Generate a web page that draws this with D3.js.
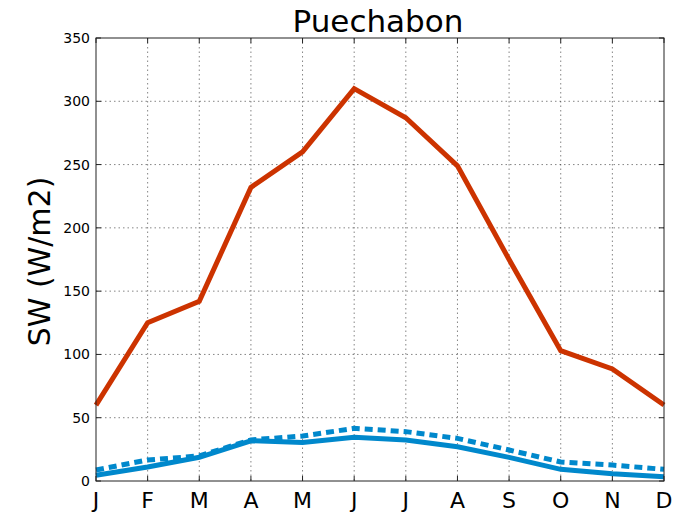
<!DOCTYPE html>
<html>
<head>
  <meta charset="utf-8">
  <script src="https://d3js.org/d3.v7.min.js"></script>
  <style>
    body { margin: 0; background: #fff; }
    text { font-family: "DejaVu Sans", sans-serif; }
  </style>
</head>
<body>
<script>
// data
var months = ["J", "F", "M", "A", "M", "J", "J", "A", "S", "O", "N", "D"];
var swTop = [60, 125, 142, 232, 260, 310, 287, 249, 175, 103, 88.5, 60];
var swNet = [4.5, 11, 18.7, 31.8, 30.5, 34.5, 32.4, 27.1, 18.7, 9.2, 5.8, 3.4];
var swNetDash = [8.7, 16.6, 19.8, 32.5, 35.5, 41.6, 39, 33.7, 24.5, 15, 12.6, 9.2];
var yTicks = [0, 50, 100, 150, 200, 250, 300, 350];

var width = 683, height = 514;
var mLeft = 96, mRight = 664, mTop = 38, mBottom = 481;

var svg = d3.select("body").append("svg").attr("width", width).attr("height", height);

var x = d3.scaleLinear().domain([0, 11]).range([mLeft, mRight]);
var y = d3.scaleLinear().domain([0, 350]).range([mBottom, mTop]);

// grid
var grid = svg.append("g").attr("stroke", "#333").attr("stroke-width", 0.6).attr("stroke-dasharray", "1.5,3");
grid.selectAll(".gx").data(d3.range(1, 11)).enter().append("line")
  .attr("x1", function(d) { return x(d); }).attr("x2", function(d) { return x(d); })
  .attr("y1", mTop).attr("y2", mBottom);
grid.selectAll(".gy").data(yTicks.slice(1, -1)).enter().append("line")
  .attr("y1", function(d) { return y(d); }).attr("y2", function(d) { return y(d); })
  .attr("x1", mLeft).attr("x2", mRight);

// lines
var line = d3.line().x(function(d, i) { return x(i); }).y(function(d) { return y(d); });
var plot = svg.append("g");
plot.append("path").datum(swTop).attr("d", line)
  .attr("fill", "none").attr("stroke", "#cc3300").attr("stroke-width", 5);
plot.append("path").datum(swNetDash).attr("d", line)
  .attr("fill", "none").attr("stroke", "#0088cc").attr("stroke-width", 5)
  .attr("stroke-dasharray", "8,5");
plot.append("path").datum(swNet).attr("d", line)
  .attr("fill", "none").attr("stroke", "#0088cc").attr("stroke-width", 5);

// frame
svg.append("rect").attr("x", mLeft).attr("y", mTop)
  .attr("width", mRight - mLeft).attr("height", mBottom - mTop)
  .attr("fill", "none").attr("stroke", "#222").attr("stroke-width", 1);

// inward ticks on all sides
var ticks = svg.append("g").attr("stroke", "#222").attr("stroke-width", 1);
d3.range(12).forEach(function(i) {
  ticks.append("line").attr("x1", x(i)).attr("x2", x(i)).attr("y1", mBottom).attr("y2", mBottom - 5);
  ticks.append("line").attr("x1", x(i)).attr("x2", x(i)).attr("y1", mTop).attr("y2", mTop + 5);
});
yTicks.forEach(function(v) {
  ticks.append("line").attr("x1", mLeft).attr("x2", mLeft + 5).attr("y1", y(v)).attr("y2", y(v));
  ticks.append("line").attr("x1", mRight).attr("x2", mRight - 5).attr("y1", y(v)).attr("y2", y(v));
});

// tick labels
svg.selectAll(".xl").data(months).enter().append("text")
  .attr("x", function(d, i) { return x(i); }).attr("y", mBottom + 27)
  .attr("text-anchor", "middle").attr("font-size", 22).text(function(d) { return d; });
svg.selectAll(".yl").data(yTicks).enter().append("text")
  .attr("x", mLeft - 6).attr("y", function(d) { return y(d) + 5; })
  .attr("text-anchor", "end").attr("font-size", 14).text(function(d) { return d; });

// title and axis label
svg.append("text").attr("x", (mLeft + mRight) / 2 - 2).attr("y", 32)
  .attr("text-anchor", "middle").attr("font-size", 31).text("Puechabon");
svg.append("text").attr("transform", "translate(50," + ((mTop + mBottom) / 2 + 2) + ") rotate(-90)")
  .attr("text-anchor", "middle").attr("font-size", 30).text("SW (W/m2)");
</script>
</body>
</html>
